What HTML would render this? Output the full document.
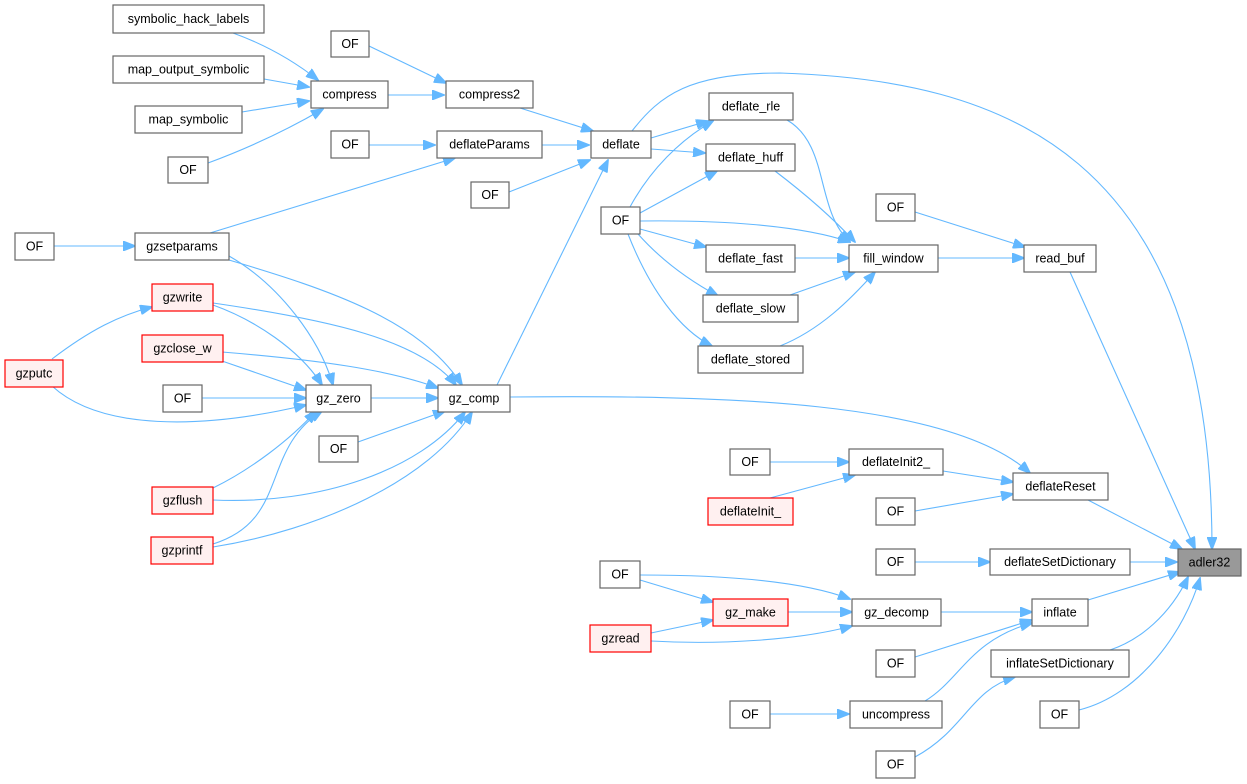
<!DOCTYPE html>
<html><head><meta charset="utf-8"><style>
html,body{margin:0;padding:0;background:#fff}
svg{display:block}
text{font-family:"Liberation Sans",Arial,sans-serif;font-size:12.5px;fill:#000;text-anchor:middle;dominant-baseline:central}
.n{fill:#fff;stroke:#666;stroke-width:1.2}
.r{fill:#fff0f0;stroke:#f00;stroke-width:1.2}
.g{fill:#999;stroke:#666;stroke-width:1.2}
path{fill:none;stroke:#63b8ff;stroke-width:1.1;marker-end:url(#a)}
</style></head><body>
<svg width="1247" height="784" viewBox="0 0 1247 784" xmlns="http://www.w3.org/2000/svg">
<defs><marker id="a" markerWidth="13" markerHeight="10" refX="12" refY="5" orient="auto" markerUnits="userSpaceOnUse"><polygon points="0,0 13,5 0,10" fill="#63b8ff" stroke="#63b8ff"/></marker></defs>
<g>
<path d="M233,33 Q280,50 318,80"/>
<path d="M264,79 L309,87"/>
<path d="M242,112 L309,101"/>
<path d="M208,163 Q270,140 323,109"/>
<path d="M369,46 L446,83"/>
<path d="M388,95 L444,95"/>
<path d="M520,108 L593,131"/>
<path d="M369,145 L435,145"/>
<path d="M542,145 L589,145"/>
<path d="M210,233 L455,158"/>
<path d="M509,192 L590,160"/>
<path d="M651,138 L708,121"/>
<path d="M651,149 L705,153"/>
<path d="M630,207 C650,170 680,140 713,121"/>
<path d="M640,213 L717,171"/>
<path d="M640,221 C720,220 800,225 850,242"/>
<path d="M640,229 L706,247"/>
<path d="M638,234 Q670,270 718,296"/>
<path d="M628,234 C650,290 680,330 712,346"/>
<path d="M787,120 C830,145 815,210 850,242"/>
<path d="M775,171 C800,190 830,215 855,242"/>
<path d="M795,258 L849,258"/>
<path d="M790,295 L855,272"/>
<path d="M780,346 C820,330 850,300 875,272"/>
<path d="M915,212 L1025,247"/>
<path d="M938,258 L1024,258"/>
<path d="M1070,272 L1195,549"/>
<path d="M632,131 C660,95 690,73 780,73 C1000,80 1212,150 1212,549"/>
<path d="M229,260 C330,290 420,320 462,385"/>
<path d="M229,256 C280,285 320,340 333,385"/>
<path d="M54,246 L135,246"/>
<path d="M213,305 C255,320 300,350 322,385"/>
<path d="M213,303 C330,320 420,340 456,385"/>
<path d="M222,361 L306,390"/>
<path d="M222,352 C320,360 390,370 438,388"/>
<path d="M202,398 L306,398"/>
<path d="M371,398 L438,398"/>
<path d="M358,442 L445,411"/>
<path d="M213,500 C320,505 420,470 465,412"/>
<path d="M213,488 C250,470 290,440 316,411"/>
<path d="M213,547 C320,530 430,480 472,412"/>
<path d="M213,544 C290,520 260,450 322,411"/>
<path d="M52,359 C90,330 120,315 152,307"/>
<path d="M52,386 C100,430 200,430 306,405"/>
<path d="M497,385 L608,160"/>
<path d="M510,397 C720,395 950,400 1030,473"/>
<path d="M770,462 L849,462"/>
<path d="M943,471 L1013,482"/>
<path d="M770,498 L855,475"/>
<path d="M915,511 L1013,494"/>
<path d="M1088,500 L1182,549"/>
<path d="M915,562 L990,562"/>
<path d="M1130,562 L1177,562"/>
<path d="M640,580 L713,602"/>
<path d="M640,575 C720,575 800,580 850,599"/>
<path d="M651,633 L713,620"/>
<path d="M651,641 C720,645 800,640 852,626"/>
<path d="M788,612 L852,612"/>
<path d="M941,612 L1032,612"/>
<path d="M1088,600 L1180,572"/>
<path d="M915,657 L1032,620"/>
<path d="M925,701 C960,680 970,640 1032,623"/>
<path d="M770,714 L849,714"/>
<path d="M1110,650 C1140,640 1170,615 1188,577"/>
<path d="M1079,710 C1140,695 1185,630 1200,578"/>
<path d="M915,757 C965,730 970,690 1015,677"/>
</g>
<g>
<rect class="n" x="113" y="5" width="151" height="28"/><text x="188.5" y="19">symbolic_hack_labels</text>
<rect class="n" x="331" y="31" width="38" height="26"/><text x="350" y="44">OF</text>
<rect class="n" x="113" y="56" width="151" height="27"/><text x="188.5" y="69.5">map_output_symbolic</text>
<rect class="n" x="311" y="81" width="77" height="27"/><text x="349.5" y="94.5">compress</text>
<rect class="n" x="446" y="81" width="87" height="27"/><text x="489.5" y="94.5">compress2</text>
<rect class="n" x="135" y="106" width="107" height="27"/><text x="188.5" y="119.5">map_symbolic</text>
<rect class="n" x="168" y="157" width="40" height="26"/><text x="188" y="170">OF</text>
<rect class="n" x="437" y="131" width="105" height="27"/><text x="489.5" y="144.5">deflateParams</text>
<rect class="n" x="331" y="131" width="38" height="27"/><text x="350" y="144.5">OF</text>
<rect class="n" x="591" y="131" width="60" height="27"/><text x="621" y="144.5">deflate</text>
<rect class="n" x="709" y="93" width="84" height="27"/><text x="751" y="106.5">deflate_rle</text>
<rect class="n" x="706" y="144" width="89" height="27"/><text x="750.5" y="157.5">deflate_huff</text>
<rect class="n" x="471" y="182" width="38" height="26"/><text x="490" y="195">OF</text>
<rect class="n" x="601" y="207" width="39" height="27"/><text x="620.5" y="220.5">OF</text>
<rect class="n" x="876" y="194" width="39" height="27"/><text x="895.5" y="207.5">OF</text>
<rect class="n" x="15" y="233" width="39" height="27"/><text x="34.5" y="246.5">OF</text>
<rect class="n" x="135" y="233" width="94" height="27"/><text x="182" y="246.5">gzsetparams</text>
<rect class="n" x="706" y="245" width="89" height="27"/><text x="750.5" y="258.5">deflate_fast</text>
<rect class="n" x="849" y="245" width="89" height="27"/><text x="893.5" y="258.5">fill_window</text>
<rect class="n" x="1024" y="245" width="72" height="27"/><text x="1060" y="258.5">read_buf</text>
<rect class="r" x="152" y="284" width="61" height="27"/><text x="182.5" y="297.5">gzwrite</text>
<rect class="n" x="703" y="295" width="95" height="27"/><text x="750.5" y="308.5">deflate_slow</text>
<rect class="n" x="698" y="346" width="105" height="27"/><text x="750.5" y="359.5">deflate_stored</text>
<rect class="r" x="142" y="335" width="81" height="27"/><text x="182.5" y="348.5">gzclose_w</text>
<rect class="r" x="5" y="360" width="58" height="27"/><text x="34" y="373.5">gzputc</text>
<rect class="n" x="163" y="385" width="39" height="27"/><text x="182.5" y="398.5">OF</text>
<rect class="n" x="306" y="385" width="65" height="27"/><text x="338.5" y="398.5">gz_zero</text>
<rect class="n" x="438" y="385" width="72" height="27"/><text x="474" y="398.5">gz_comp</text>
<rect class="n" x="319" y="436" width="39" height="26"/><text x="338.5" y="449">OF</text>
<rect class="n" x="730" y="449" width="40" height="26"/><text x="750" y="462">OF</text>
<rect class="n" x="849" y="449" width="94" height="26"/><text x="896" y="462">deflateInit2_</text>
<rect class="r" x="152" y="487" width="61" height="27"/><text x="182.5" y="500.5">gzflush</text>
<rect class="n" x="1013" y="473" width="95" height="27"/><text x="1060.5" y="486.5">deflateReset</text>
<rect class="r" x="708" y="498" width="85" height="27"/><text x="750.5" y="511.5">deflateInit_</text>
<rect class="n" x="876" y="498" width="39" height="27"/><text x="895.5" y="511.5">OF</text>
<rect class="r" x="151" y="537" width="62" height="27"/><text x="182" y="550.5">gzprintf</text>
<rect class="n" x="876" y="549" width="39" height="26"/><text x="895.5" y="562">OF</text>
<rect class="n" x="990" y="549" width="140" height="26"/><text x="1060" y="562">deflateSetDictionary</text>
<rect class="g" x="1178" y="549" width="63" height="27"/><text x="1209.5" y="562.5">adler32</text>
<rect class="n" x="600" y="561" width="40" height="27"/><text x="620" y="574.5">OF</text>
<rect class="r" x="713" y="599" width="75" height="27"/><text x="750.5" y="612.5">gz_make</text>
<rect class="n" x="852" y="599" width="89" height="27"/><text x="896.5" y="612.5">gz_decomp</text>
<rect class="n" x="1032" y="599" width="56" height="27"/><text x="1060" y="612.5">inflate</text>
<rect class="r" x="590" y="625" width="61" height="27"/><text x="620.5" y="638.5">gzread</text>
<rect class="n" x="876" y="650" width="39" height="27"/><text x="895.5" y="663.5">OF</text>
<rect class="n" x="991" y="650" width="138" height="27"/><text x="1060" y="663.5">inflateSetDictionary</text>
<rect class="n" x="730" y="701" width="40" height="27"/><text x="750" y="714.5">OF</text>
<rect class="n" x="850" y="701" width="92" height="27"/><text x="896" y="714.5">uncompress</text>
<rect class="n" x="1040" y="701" width="39" height="27"/><text x="1059.5" y="714.5">OF</text>
<rect class="n" x="876" y="751" width="39" height="27"/><text x="895.5" y="764.5">OF</text>
</g>
</svg>
</body></html>
